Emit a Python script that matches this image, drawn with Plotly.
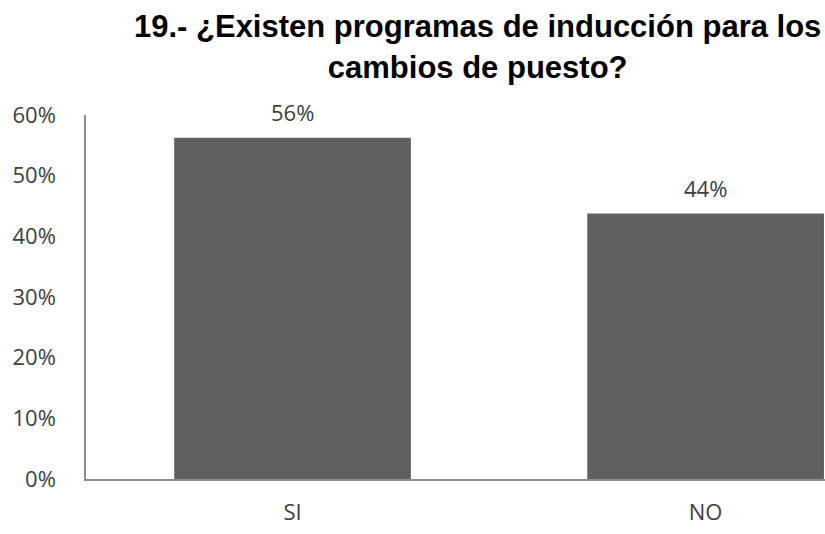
import plotly.graph_objects as go

categories = ["SI", "NO"]
values = [0.5625, 0.4375]
y_ticks = [0, 0.1, 0.2, 0.3, 0.4, 0.5, 0.6]
y_tick_labels = ["0%", "10%", "20%", "30%", "40%", "50%", "60%"]
title_text = "19.- ¿Existen programas de inducción para los<br>cambios de puesto?"

font_fam = "Open Sans, Noto Sans, sans-serif"
fig = go.Figure()
fig.add_trace(go.Bar(
    x=categories, y=values,
    marker=dict(color="#606060", line=dict(width=0)),
    width=0.573,
    hoverinfo="skip",
))

for c, v in zip(categories, values):
    fig.add_annotation(x=c, y=v, text=f"{v*100:.0f}%", showarrow=False,
                       yanchor="bottom", yshift=9,
                       font=dict(family=font_fam, size=22, color="#404040"))

fig.update_layout(
    width=825, height=534,
    margin=dict(l=86, r=0, t=115, b=55, autoexpand=False),
    paper_bgcolor="white", plot_bgcolor="white",
    showlegend=False,
    title=dict(text=title_text, x=0.579, xanchor="center", y=0.93, yanchor="top",
               font=dict(family="Liberation Sans, Arial, sans-serif", size=31, color="black", weight="bold")),
    bargap=0.427,
)
fig.update_xaxes(range=[-0.5, 1.289], showline=True, linecolor="#8c8c8c", linewidth=1.5,
                 showgrid=False, ticks="", ticklabelstandoff=13,
                 tickfont=dict(family=font_fam, size=22, color="#404040"), fixedrange=True)
fig.update_yaxes(range=[0, 0.6], tickvals=y_ticks, ticktext=y_tick_labels,
                 showline=True, linecolor="#8c8c8c", linewidth=1.5,
                 showgrid=False, zeroline=False, ticks="", ticklabelstandoff=24,
                 tickfont=dict(family=font_fam, size=22, color="#404040"), fixedrange=True)

fig.write_html("out.html")
